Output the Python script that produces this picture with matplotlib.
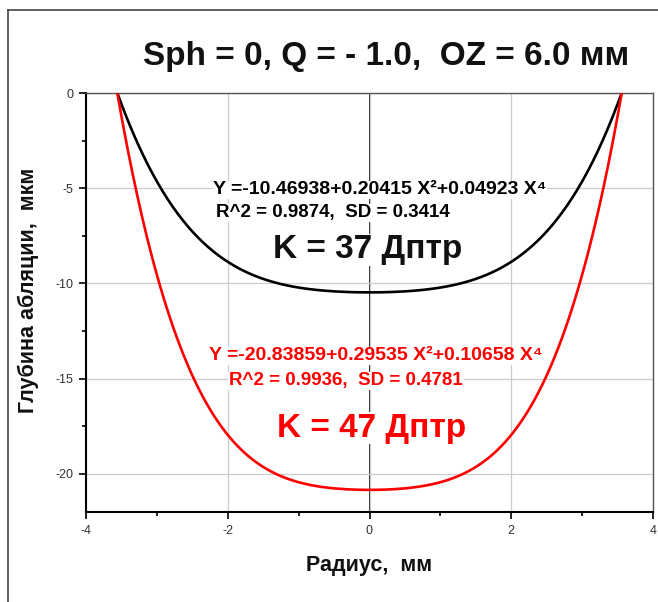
import numpy as np
import matplotlib
matplotlib.use("Agg")
import matplotlib.pyplot as plt
from matplotlib.lines import Line2D
from matplotlib.ticker import MultipleLocator

plt.rcParams['font.family'] = ['Liberation Sans', 'DejaVu Sans']
plt.rcParams['axes.unicode_minus'] = False

# Polynomial fits Y = a + b X^2 + c X^4 for each keratometry
k_labels = ["K = 37 Дптр", "K = 47 Дптр"]
coef_a = [-10.46938, -20.83859]
coef_b = [0.20415, 0.29535]
coef_c = [0.04923, 0.10658]
r_squared = ["0.9874", "0.9936"]
sd_values = ["0.3414", "0.4781"]
colors = ["black", "#ff0000"]

title = "Sph = 0, Q = - 1.0,  OZ = 6.0 мм"
x_ticks = [-4, -2, 0, 2, 4]
y_ticks = [0, -5, -10, -15, -20]

fig = plt.figure(figsize=(6.58, 6.02), dpi=100)
ax = fig.add_axes([86 / 658, 1 - 512 / 602, 567 / 658, 419 / 602])

# outer frame (left and top edges)
fig.add_artist(Line2D([8 / 658, 8 / 658], [0, 1 - 10 / 602], transform=fig.transFigure,
                      color="#444444", lw=1.2))
fig.add_artist(Line2D([8 / 658, 1], [1 - 10 / 602, 1 - 10 / 602], transform=fig.transFigure,
                      color="#444444", lw=1.2))

for a, b, c, col in zip(coef_a, coef_b, coef_c, colors):
    # zero-depth edge of the optical zone from the fitted polynomial
    t = (-b + np.sqrt(b * b - 4 * c * a)) / (2 * c)
    r = np.sqrt(t)
    x = np.linspace(-r, r, 400)
    y = a + b * x ** 2 + c * x ** 4
    ax.plot(x, y, color=col, lw=1.9, zorder=3)

ax.set_xlim(-4, 4)
ax.set_ylim(-22, 0)
ax.set_xticks(x_ticks)
ax.set_yticks(y_ticks)
ax.xaxis.set_minor_locator(MultipleLocator(1))
ax.yaxis.set_minor_locator(MultipleLocator(2.5))
ax.tick_params(which="major", direction="out", length=5, width=1.2, labelsize=9,
               labelcolor="#333333", pad=4)
ax.tick_params(which="minor", direction="out", length=3, width=1.2)

ax.grid(True, which="major", color="#cccccc", lw=0.9, zorder=0)
ax.axvline(0, color="black", lw=1.2, zorder=1)

for side in ("left", "bottom"):
    ax.spines[side].set_linewidth(1.5)
    ax.spines[side].set_color("black")
for side in ("top", "right"):
    ax.spines[side].set_linewidth(1.0)
    ax.spines[side].set_color("#555555")

fig.text(369 / 658, 1 - 566 / 602, "Радиус,  мм", fontsize=15.5, fontweight="bold",
         ha="center", va="center", color="#111111")
fig.text(28 / 658, 1 - 290 / 602, "Глубина абляции,  мкм", fontsize=15.5, fontweight="bold",
         rotation=90, ha="center", va="center", color="#111111")

fig.text(386 / 658, 1 - 57 / 602, title, fontsize=24, fontweight="bold",
         ha="center", va="center", color="#111111")

bbox = dict(facecolor="white", edgecolor="none", pad=0.5)
eq_pos = [(380, 190), (376, 356)]
fit_pos = [(333, 213), (346, 381)]
k_pos = [(368, 250), (372, 428)]
for i in range(2):
    eq = f"Y =-{abs(coef_a[i]):.5f}+{coef_b[i]:.5f} X²+{coef_c[i]:.5f} X⁴"
    fig.text(eq_pos[i][0] / 658, 1 - eq_pos[i][1] / 602, eq, fontsize=14, color=colors[i],
             fontweight="bold", ha="center", va="center", bbox=bbox, zorder=5)
    fig.text(fit_pos[i][0] / 658, 1 - fit_pos[i][1] / 602,
             f"R^2 = {r_squared[i]},  SD = {sd_values[i]}", fontsize=13.5, color=colors[i],
             fontweight="bold", ha="center", va="center", bbox=bbox, zorder=5)
    fig.text(k_pos[i][0] / 658, 1 - k_pos[i][1] / 602, k_labels[i], fontsize=24,
             fontweight="bold", color=colors[i] if i == 1 else "#111111",
             ha="center", va="center", bbox=bbox, zorder=5)

fig.savefig("out.png", dpi=100)
